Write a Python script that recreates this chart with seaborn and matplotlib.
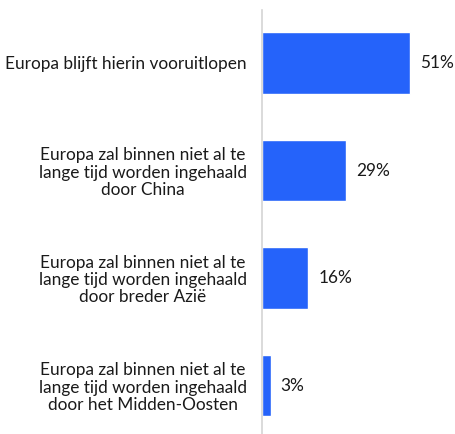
import numpy as np
import pandas as pd
import seaborn as sns
import matplotlib.pyplot as plt

categories = [
    "Europa blijft hierin vooruitlopen",
    "Europa zal binnen niet al te\nlange tijd worden ingehaald\ndoor China",
    "Europa zal binnen niet al te\nlange tijd worden ingehaald\ndoor breder Azië",
    "Europa zal binnen niet al te\nlange tijd worden ingehaald\ndoor het Midden-Oosten",
]
values = [51, 29, 16, 3]
value_labels = ["51%", "29%", "16%", "3%"]

sns.set_style("white")
plt.rcParams['font.family'] = ['Lato', 'DejaVu Sans']

df = pd.DataFrame({"label": categories, "value": values})

fig = plt.figure(figsize=(4.55, 4.34), dpi=100)
ax = fig.add_axes([262 / 455, 0.0, 193 / 455, 1 - 10 / 434])

sns.barplot(data=df, y="label", x="value", orient="h", color="#2563fa",
            saturation=1, width=0.575, ax=ax)

ax.set_xlim(0, 66.5)
ax.set_ylim(3.451, -0.493)
ax.set_xlabel("")
ax.set_ylabel("")
ax.set_xticks([])

for s in ["top", "right", "bottom"]:
    ax.spines[s].set_visible(False)
ax.spines["left"].set_color("#d4d4d4")
ax.spines["left"].set_linewidth(1.2)

ax.tick_params(axis="y", length=0, pad=11)
for lab in ax.get_yticklabels():
    lab.set_fontsize(12.4)
    lab.set_color("#1a1a1a")
    lab.set_multialignment("center")
    lab.set_linespacing(1.08)

for i, (v, t) in enumerate(zip(values, value_labels)):
    ax.text(v + 3.4, i, t, va="center", ha="left", fontsize=12.4, color="#1a1a1a")

fig.savefig("out.png", dpi=100)
